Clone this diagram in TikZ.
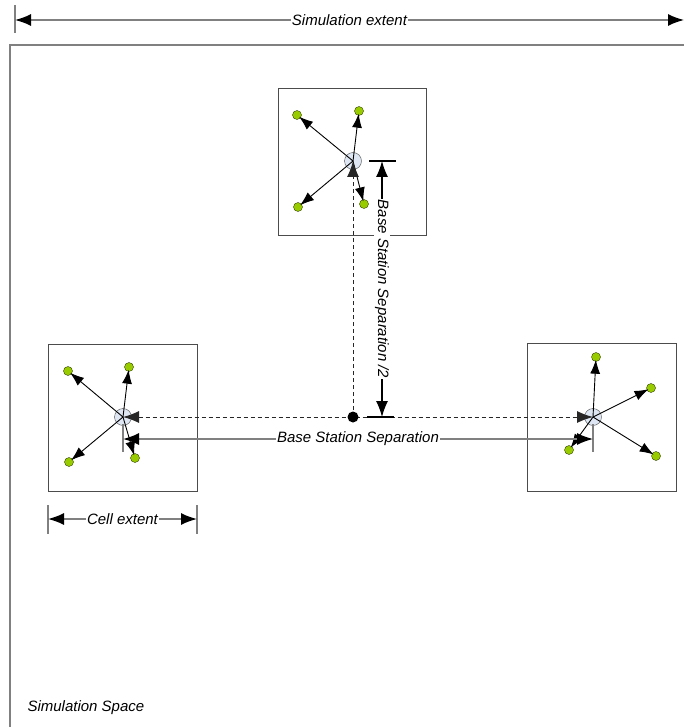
\documentclass[tikz,border=0pt]{standalone}
\usepackage{fontspec}
\setmainfont{Liberation Sans}
\usetikzlibrary{arrows.meta, positioning}

\definecolor{uegreen}{HTML}{99CC00}
\definecolor{bsblue}{HTML}{DDE6F2}

\tikzset{
  dimline/.style={draw=gray, line width=1.5pt,
    {Latex[length=16pt,width=12pt,color=black]}-{Latex[length=16pt,width=12pt,color=black]}},
  tickline/.style={draw=gray, line width=1.5pt},
  dimlabel/.style={fill=white, inner sep=1pt},
  cellbox/.style={draw=black!70, line width=0.8pt},
  bs/.style={circle, draw=black!70, fill=bsblue, minimum size=17pt, inner sep=0pt},
  ue/.style={circle, draw=black!70!uegreen, fill=uegreen, minimum size=9pt, inner sep=0pt},
  uearrow/.style={draw=black, line width=0.9pt, -{Latex[length=14pt,width=10pt]}, shorten >=-2pt},
  sepline/.style={draw=black!85, line width=1pt, dash pattern=on 4pt off 3pt}
}

\begin{document}
\begin{tikzpicture}[x=1pt, y=-1pt, font=\fontsize{15}{18}\selectfont\itshape]
    \useasboundingbox (0,0) rectangle (684,727);

    % simulation space
    \draw[gray, line width=1.5pt] (10,727) -- (10,45) -- (684,45);
    \node[anchor=west] (space) at (24,708) {Simulation Space};

    % simulation extent
    \coordinate (extL) at (15,20);
    \coordinate (extR) at (684,20);
    \draw[tickline] (15,5) -- (15,33);
    \draw[dimline] (extL) -- node[dimlabel] {Simulation extent} (extR);

    % cells
    \draw[cellbox] (278,88) rectangle (426,235);
    \draw[cellbox] (48,344) rectangle (197,491);
    \draw[cellbox] (527,343) rectangle (676,491);

    % base stations
    \node[bs] (bsT) at (353,161) {};
    \node[bs] (bsL) at (123,417) {};
    \node[bs] (bsR) at (593,417) {};

    % users
    \foreach \n/\p in {t1/{297,115}, t2/{359,111}, t3/{298,207}, t4/{364,204},
                       l1/{68,371}, l2/{129,367}, l3/{69,462}, l4/{135,458},
                       r1/{596,357}, r2/{651,388}, r3/{569,450}, r4/{656,456}}
        \node[ue] (\n) at (\p) {};

    \foreach \n in {t1,t2,t3,t4} \draw[uearrow] (bsT.center) -- (\n);
    \foreach \n in {l1,l2,l3,l4} \draw[uearrow] (bsL.center) -- (\n);
    \foreach \n in {r1,r2,r3,r4} \draw[uearrow] (bsR.center) -- (\n);

    % separation between base stations
    \coordinate (mid) at (353,417);
    \draw[sepline, -{Latex[length=16pt,width=12pt]}] (mid) -- (bsT.center);
    \draw[sepline, {Latex[length=16pt,width=12pt]}-{Latex[length=16pt,width=12pt]}]
        (bsL.center) -- (bsR.center);
    \node[circle, fill=black, minimum size=11pt, inner sep=0pt] (hub) at (mid) {};

    % base station separation
    \coordinate (sepL) at (123,439);
    \coordinate (sepR) at (593,439);
    \draw[tickline] (123,424) -- (123,452);
    \draw[tickline] (593,424) -- (593,452);
    \draw[dimline] (sepL) -- node[dimlabel] {Base Station Separation} (sepR);

    % half separation
    \coordinate (halfT) at (382,161);
    \coordinate (halfB) at (382,417);
    \draw[black, line width=1.2pt] (369,161) -- (396,161);
    \draw[black, line width=1.2pt] (367,417) -- (394,417);
    \draw[dimline, draw=black, line width=1.2pt] (halfT) -- node[dimlabel, rotate=-90] {Base Station Separation /2} (halfB);

    % cell extent
    \coordinate (cellL) at (48,519);
    \coordinate (cellR) at (197,519);
    \draw[tickline] (48,505) -- (48,534);
    \draw[tickline] (197,505) -- (197,534);
    \draw[dimline] (cellL) -- node[dimlabel] {Cell extent} (cellR);
\end{tikzpicture}
\end{document}
